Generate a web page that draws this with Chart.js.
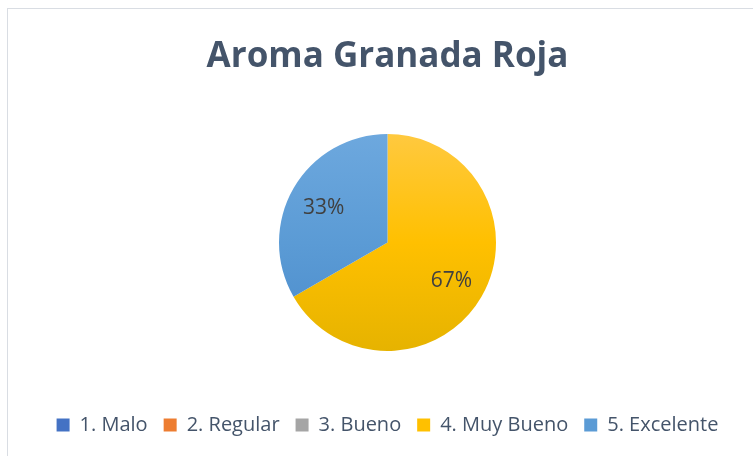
<!DOCTYPE html>
<html>
<head>
<meta charset="utf-8">
<script src="https://cdn.jsdelivr.net/npm/chart.js@4"></script>
<style>
  body { margin: 0; background: #fff; }
  #frame { position: absolute; left: 7px; top: 8px; width: 800px; height: 500px; border: 1px solid #d9dde3; }
  #wrap { position: absolute; left: 0; top: 0; width: 753px; height: 456px; }
</style>
</head>
<body>
<div id="frame"></div>
<div id="wrap"><canvas id="aroma" width="753" height="456"></canvas></div>
<script>
const categories = ["1. Malo", "2. Regular", "3. Bueno", "4. Muy Bueno", "5. Excelente"];
const counts = [0, 0, 0, 2, 1];
const colors = ["#4472C4", "#ED7D31", "#A5A5A5", "#FFC000", "#5B9BD5"];
const topColors = ["#5A86D0", "#F29050", "#B5B5B5", "#FFC93F", "#6DA8DE"];
const bottomColors = ["#3A64B0", "#D56E28", "#939393", "#E6B300", "#4A8BCB"];

// percent labels inside the slices
const pctLabels = {
  id: "pctLabels",
  afterDatasetsDraw(chart) {
    const ctx = chart.ctx;
    const meta = chart.getDatasetMeta(0);
    const total = counts.reduce((a, b) => a + b, 0);
    ctx.save();
    ctx.font = "21px 'Open Sans'";
    ctx.fillStyle = "#404040";
    ctx.textAlign = "center";
    ctx.textBaseline = "middle";
    meta.data.forEach((arc, i) => {
      if (!counts[i]) return;
      const mid = (arc.startAngle + arc.endAngle) / 2;
      const r = arc.outerRadius * 0.68;
      const pct = Math.round(counts[i] / total * 100) + "%";
      ctx.fillText(pct, arc.x + Math.cos(mid) * r, arc.y + Math.sin(mid) * r + 2);
    });
    ctx.restore();
  }
};

new Chart(document.getElementById("aroma"), {
  type: "pie",
  data: {
    labels: categories,
    datasets: [{
      data: counts,
      borderWidth: 0,
      backgroundColor: (c) => {
        const area = c.chart.chartArea;
        if (!area) return colors[c.dataIndex];
        const g = c.chart.ctx.createLinearGradient(0, area.top, 0, area.bottom);
        g.addColorStop(0, topColors[c.dataIndex]);
        g.addColorStop(0.5, colors[c.dataIndex]);
        g.addColorStop(1, bottomColors[c.dataIndex]);
        return g;
      },
    }],
  },
  options: {
    responsive: false,
    animation: false,
    layout: { padding: { top: 0, bottom: 11, left: 22, right: 0 } },
    plugins: {
      title: {
        display: true,
        text: "Aroma Granada Roja",
        color: "#44546A",
        font: { family: "'Open Sans'", size: 35, weight: "bold" },
        padding: { top: 36, bottom: 56 },
      },
      legend: {
        position: "bottom",
        title: {
          display: true,
          text: "",
          font: { size: 10 },
          padding: { top: 0, bottom: 36 },
        },
        labels: {
          color: "#44546A",
          font: { family: "'Open Sans'", size: 20 },
          boxWidth: 13,
          boxHeight: 13,
          padding: 16,
          generateLabels: (chart) => categories.map((name, i) => ({
            text: name,
            fillStyle: colors[i],
            strokeStyle: colors[i],
            lineWidth: 0,
            fontColor: "#44546A",
            index: i,
            hidden: false,
          })),
        },
      },
      tooltip: { enabled: false },
    },
  },
  plugins: [pctLabels],
});
</script>
</body>
</html>
